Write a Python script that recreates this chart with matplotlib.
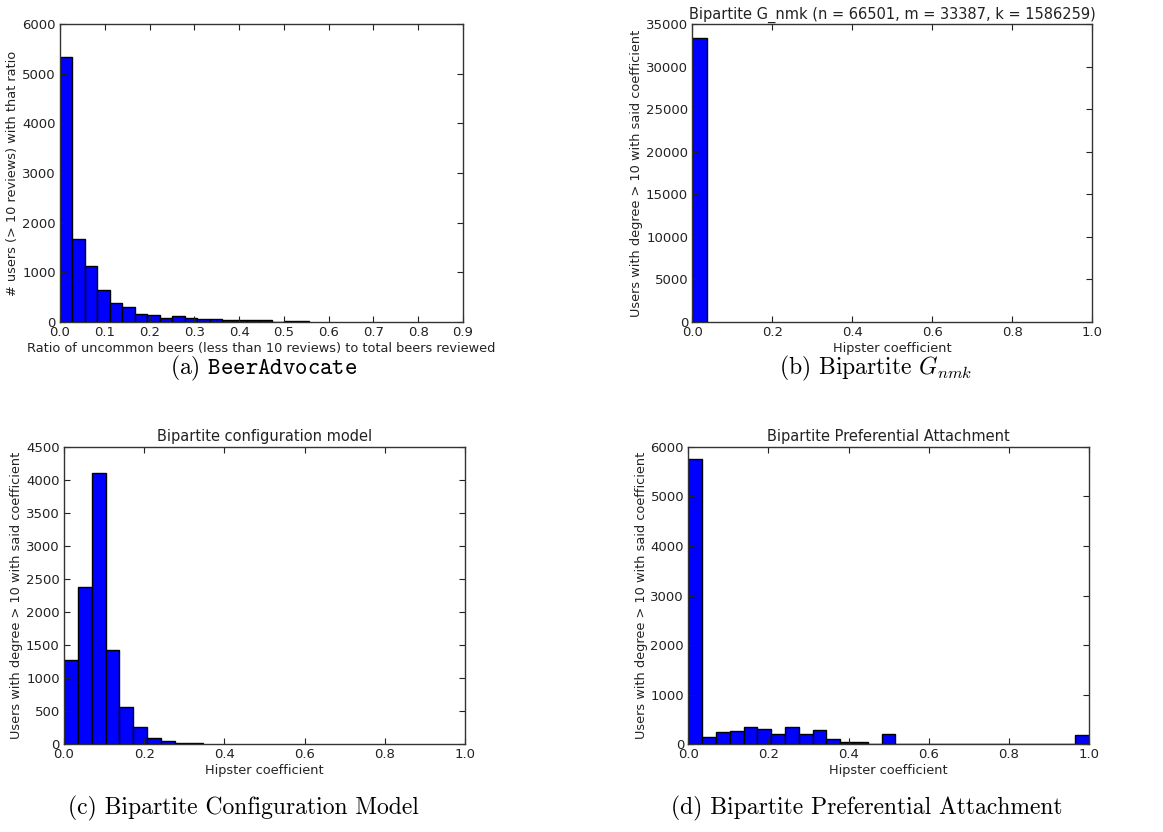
import matplotlib
matplotlib.use("Agg")
import matplotlib.pyplot as plt
import numpy as np

plt.rcParams['mathtext.fontset'] = 'cm'
plt.rcParams['font.size'] = 10
plt.rcParams['axes.unicode_minus'] = False

# (a) BeerAdvocate histogram, 20 bins
a_edges = np.linspace(0.0, 0.5566, 21)
a_counts = [5340, 1675, 1132, 647, 377, 297, 165, 135, 81, 115,
            84, 57, 57, 30, 30, 30, 30, 0, 25, 25]

# (b) Bipartite G_nmk, everything falls in the first bin
b_edges = [0.0, 0.0357]
b_counts = [33387]

# (c) Bipartite configuration model, 10 bins
c_edges = np.linspace(0.0, 0.3455, 11)
c_counts = [1275, 2380, 4100, 1430, 565, 257, 96, 55, 20, 20]

# (d) Bipartite preferential attachment, 29 bins over [0, 1]
d_edges = np.linspace(0.0, 1.0, 30)
d_counts = [5746, 155, 242, 269, 343, 316, 208, 343, 208, 289,
            100, 47, 47, 0, 215, 0, 0, 0, 0, 0,
            0, 0, 0, 0, 0, 0, 0, 0, 188]

hip_x = "Hipster coefficient"
hip_y = "Users with degree > 10 with said coefficient"

panels = [
    # edges, counts, rect, xlim, xstep, ylim, ystep, title, xlabel, ylabel
    (a_edges, a_counts, [0.0516, 0.613, 0.3465, 0.358], 0.9, 0.1, 6000, 1000, None,
     "Ratio of uncommon beers (less than 10 reviews) to total beers reviewed",
     "# users (> 10 reviews) with that ratio"),
    (b_edges, b_counts, [0.5953, 0.613, 0.344, 0.358], 1.0, 0.2, 35000, 5000,
     "Bipartite G_nmk (n = 66501, m = 33387, k = 1586259)", hip_x, hip_y),
    (c_edges, c_counts, [0.055, 0.1054, 0.345, 0.3577], 1.0, 0.2, 4500, 500,
     "Bipartite configuration model", hip_x, hip_y),
    (d_edges, d_counts, [0.5918, 0.1054, 0.3445, 0.3577], 1.0, 0.2, 6000, 1000,
     "Bipartite Preferential Attachment", hip_x, hip_y),
]

fig = plt.figure(figsize=(11.63, 8.32), dpi=100)

for edges, counts, rect, xmax, xstep, ymax, ystep, title, xl, yl in panels:
    ax = fig.add_axes(rect)
    edges = np.asarray(edges)
    ax.hist(edges[:-1], bins=edges, weights=counts, color='#0000ff',
            edgecolor='black', linewidth=1.0)
    ax.set_xlim(0, xmax)
    ax.set_ylim(0, ymax)
    ax.set_xticks(np.arange(0, xmax + 1e-9, xstep))
    ax.set_xticklabels(["%.1f" % v for v in np.arange(0, xmax + 1e-9, xstep)])
    ax.set_yticks(np.arange(0, ymax + 1, ystep))
    ax.tick_params(direction='in', top=True, right=True, length=4,
                   labelsize=9.5, colors='#222222', pad=3)
    for s in ax.spines.values():
        s.set_linewidth(1.0)
        s.set_color('#333333')
    if title:
        ax.set_title(title, fontsize=10.5, pad=4, color='#222222')
    ax.set_xlabel(xl, fontsize=9.3, labelpad=2, color='#222222')
    ax.set_ylabel(yl, fontsize=9.3, labelpad=2, color='#222222')

cap = dict(ha='center', va='center', fontsize=17, family='cmr10')
fig.text(264 / 1163, 1 - 368 / 832, r"(a) $\mathtt{BeerAdvocate}$", **cap)
fig.text(876 / 1163, 1 - 368 / 832, r"(b) Bipartite $G_{nmk}$", **cap)
fig.text(243 / 1163, 1 - 808 / 832, "(c) Bipartite Configuration Model", **cap)
fig.text(867 / 1163, 1 - 808 / 832, "(d) Bipartite Preferential Attachment", **cap)

fig.savefig("out.png", dpi=100)
